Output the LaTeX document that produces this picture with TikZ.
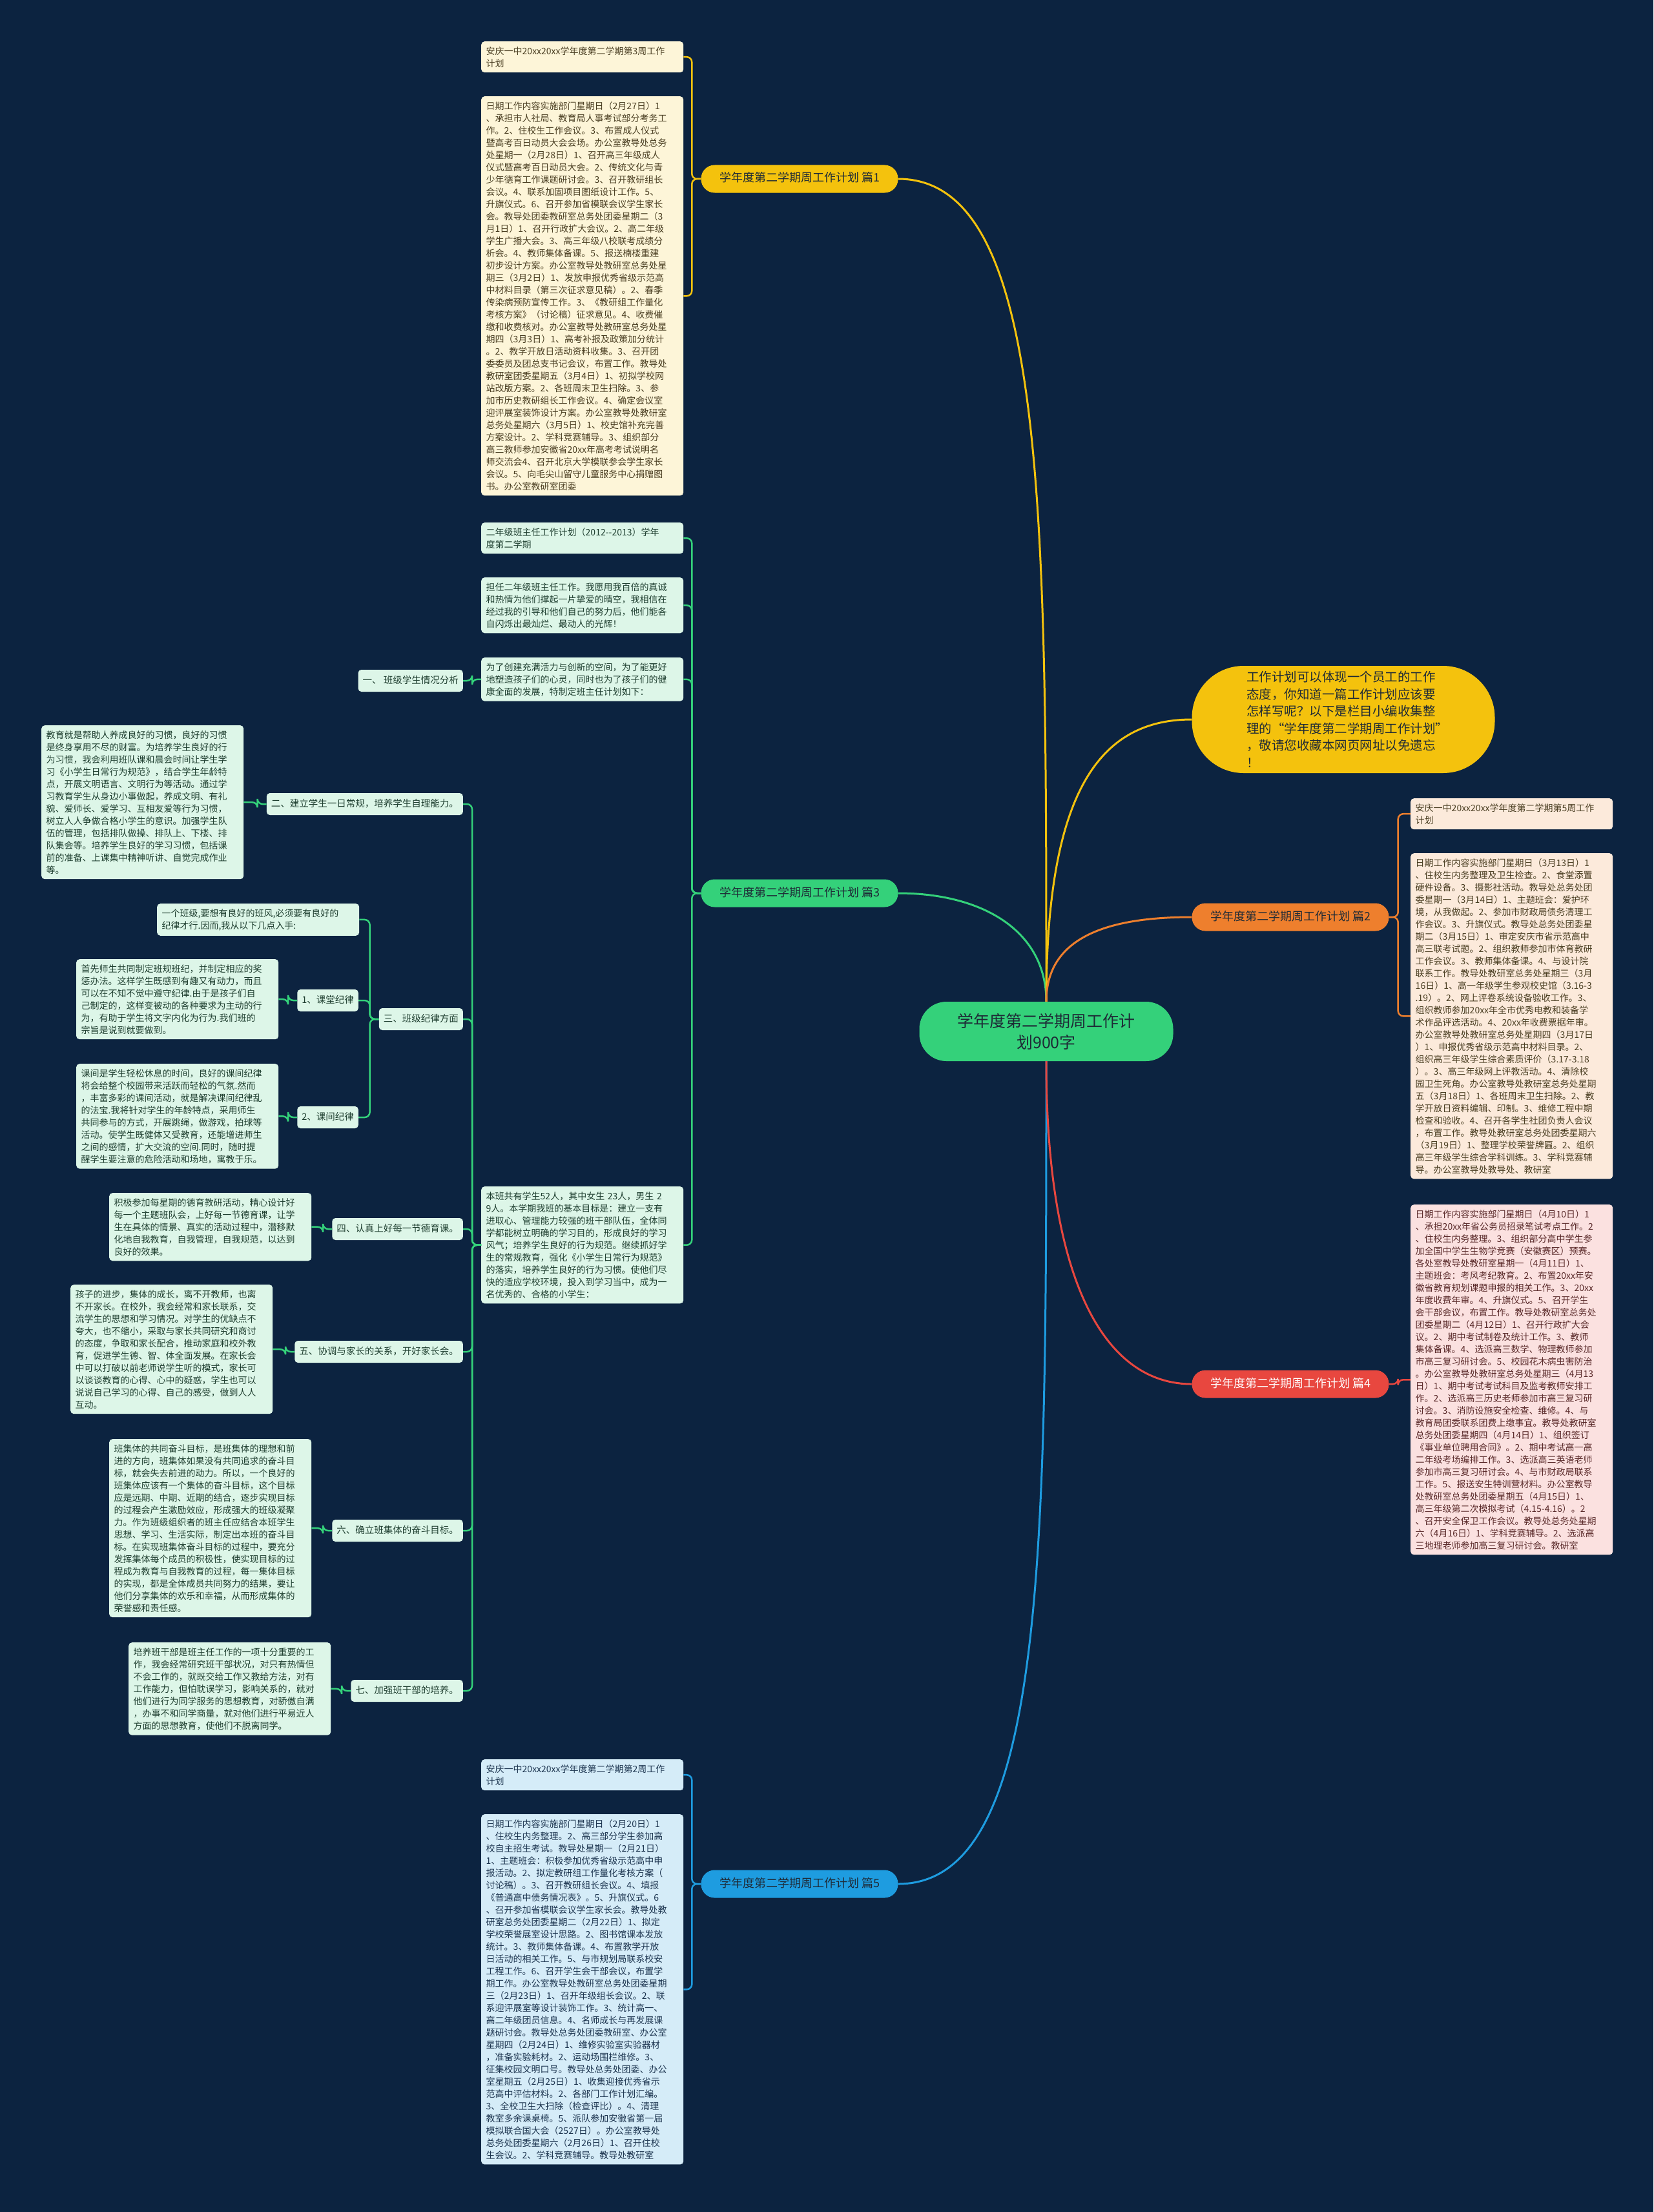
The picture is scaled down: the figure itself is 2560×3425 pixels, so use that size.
\documentclass[tikz,border=0pt]{standalone}
\usepackage{fontspec}
\setmainfont{Noto Sans CJK SC}
\definecolor{mmnavy}{HTML}{0C2340}
\definecolor{mmyellow}{HTML}{F4C20D}
\definecolor{mmgreen}{HTML}{34D17A}
\definecolor{mmblue}{HTML}{1E9CE0}
\definecolor{mmorange}{HTML}{EE7F2D}
\definecolor{mmred}{HTML}{E8473F}
\definecolor{mmcream}{HTML}{FDF5D8}
\definecolor{mmmint}{HTML}{DDF6E8}
\definecolor{mmsky}{HTML}{D5ECF8}
\definecolor{mmpeach}{HTML}{FCEADB}
\definecolor{mmpink}{HTML}{FBE1E0}
\definecolor{mmink}{HTML}{1E2A36}
\definecolor{mmbrown}{HTML}{4A3E22}
\definecolor{mmforest}{HTML}{1F3F30}
\definecolor{mmdeep}{HTML}{1D3550}
\definecolor{mmwine}{HTML}{5A2A2A}
\newcommand\bodyfont{\fontsize{14}{19}\selectfont}
\newcommand\tagfont{\fontsize{14.5}{19}\selectfont}
\newcommand\branchfont{\fontsize{18}{22}\selectfont}
\tikzset{
  noteBox/.style={rounded corners=5pt, align=left, text width=298pt, inner xsep=7.5pt, inner ysep=8pt, font=\bodyfont, anchor=north west},
  yellowBox/.style={noteBox, fill=mmcream, text=mmbrown},
  greenBox/.style={noteBox, fill=mmmint, text=mmforest},
  blueBox/.style={noteBox, fill=mmsky, text=mmdeep},
  orangeBox/.style={noteBox, fill=mmpeach, text=mmbrown},
  redBox/.style={noteBox, fill=mmpink, text=mmwine},
  tagBox/.style={fill=mmmint, text=mmforest, rounded corners=5pt, font=\tagfont, inner xsep=7pt, inner ysep=10pt, text height=11pt, text depth=3pt, anchor=east},
  branchNode/.style={rounded corners=21pt, font=\branchfont, minimum width=305pt, minimum height=43pt, inner sep=0pt, text height=14pt, text depth=4pt},
  yellowLink/.style={draw=mmyellow, line width=2.5pt, rounded corners=8pt},
  greenLink/.style={draw=mmgreen, line width=2.5pt, rounded corners=8pt},
  blueLink/.style={draw=mmblue, line width=2.5pt, rounded corners=8pt},
  orangeLink/.style={draw=mmorange, line width=2.5pt, rounded corners=8pt},
  redLink/.style={draw=mmred, line width=2.5pt, rounded corners=8pt}
}
\begin{document}
\begin{tikzpicture}[x=1pt,y=-1pt]
  \fill[mmnavy] (0,0) rectangle (2560,3425);
  \useasboundingbox (0,0) rectangle (2560,3425);

  % centre, intro and the five branches
  \node[fill=mmgreen, rounded corners=42pt, minimum width=393pt, minimum height=92pt, align=center, text=mmink, font=\fontsize{25}{33}\selectfont] (m) at (1620,1597) {学年度第二学期周工作计\\划900字};
  \node[fill=mmyellow, rounded corners=80pt, minimum width=469pt, minimum height=166pt, align=left, text width=300pt, text=mmink, font=\fontsize{19.5}{26.5}\selectfont] (intro) at (2080,1114) {工作计划可以体现一个员工的工作\\态度，你知道一篇工作计划应该要\\怎样写呢？以下是栏目小编收集整\\理的“学年度第二学期周工作计划”\\，敬请您收藏本网页网址以免遗忘\\！};
  \node[branchNode, fill=mmyellow, text=mmink] (b1) at (1238,277) {学年度第二学期周工作计划 篇1};
  \node[branchNode, fill=mmgreen, text=mmink] (b3) at (1238,1383) {学年度第二学期周工作计划 篇3};
  \node[branchNode, fill=mmblue, text=mmink] (b5) at (1238,2917) {学年度第二学期周工作计划 篇5};
  \node[branchNode, fill=mmorange, text=mmink] (b2) at (1998,1420) {学年度第二学期周工作计划 篇2};
  \node[branchNode, fill=mmred, text=white] (b4) at (1998,2143) {学年度第二学期周工作计划 篇4};

  \draw[yellowLink, line width=3pt] (m.north) .. controls +(0,-760) and +(230,0) .. (b1.east);
  \draw[greenLink, line width=3pt] (m.north) .. controls +(0,-110) and +(130,0) .. (b3.east);
  \draw[blueLink, line width=3pt] (m.south) .. controls +(0,760) and +(230,0) .. (b5.east);
  \draw[yellowLink, line width=3pt] (m.north) .. controls +(0,-330) and +(-140,0) .. (intro.west);
  \draw[orangeLink, line width=3pt] (m.north) .. controls +(0,-100) and +(-130,0) .. (b2.west);
  \draw[redLink, line width=3pt] (m.south) .. controls +(0,330) and +(-140,0) .. (b4.west);

  % 篇1
  \node[yellowBox] (c1a) at (745,64) {安庆一中20xx20xx学年度第二学期第3周工作\\计划};
  \node[yellowBox] (c1b) at (745,149) {日期工作内容实施部门星期日（2月27日）1\\、承担市人社局、教育局人事考试部分考务工\\作。2、住校生工作会议。3、布置成人仪式\\暨高考百日动员大会会场。办公室教导处总务\\处星期一（2月28日）1、召开高三年级成人\\仪式暨高考百日动员大会。2、传统文化与青\\少年德育工作课题研讨会。3、召开教研组长\\会议。4、联系加固项目图纸设计工作。5、\\升旗仪式。6、召开参加省模联会议学生家长\\会。教导处团委教研室总务处团委星期二（3\\月1日）1、召开行政扩大会议。2、高二年级\\学生广播大会。3、高三年级八校联考成绩分\\析会。4、教师集体备课。5、报送楠楼重建\\初步设计方案。办公室教导处教研室总务处星\\期三（3月2日）1、发放申报优秀省级示范高\\中材料目录（第三次征求意见稿）。2、春季\\传染病预防宣传工作。3、《教研组工作量化\\考核方案》（讨论稿）征求意见。4、收费催\\缴和收费核对。办公室教导处教研室总务处星\\期四（3月3日）1、高考补报及政策加分统计\\。2、教学开放日活动资料收集。3、召开团\\委委员及团总支书记会议，布置工作。教导处\\教研室团委星期五（3月4日）1、初拟学校网\\站改版方案。2、各班周末卫生扫除。3、参\\加市历史教研组长工作会议。4、确定会议室\\迎评展室装饰设计方案。办公室教导处教研室\\总务处星期六（3月5日）1、校史馆补充完善\\方案设计。2、学科竞赛辅导。3、组织部分\\高三教师参加安徽省20xx年高考考试说明名\\师交流会4、召开北京大学模联参会学生家长\\会议。5、向毛尖山留守儿童服务中心捐赠图\\书。办公室教研室团委};
  \foreach \c in {c1a,c1b}
    \draw[yellowLink] (b1.west) -- ++(-14,0) |- (\c.east);

  % 篇3
  \node[greenBox] (c3a) at (745,809) {二年级班主任工作计划（2012{-}{-}2013）学年\\度第二学期};
  \node[greenBox] (c3b) at (745,894) {担任二年级班主任工作。我愿用我百倍的真诚\\和热情为他们撑起一片挚爱的晴空，我相信在\\经过我的引导和他们自己的努力后，他们能各\\自闪烁出最灿烂、最动人的光辉！};
  \node[greenBox] (c3c) at (745,1018) {为了创建充满活力与创新的空间，为了能更好\\地塑造孩子们的心灵，同时也为了孩子们的健\\康全面的发展，特制定班主任计划如下：};
  \node[greenBox] (c3d) at (745,1837) {本班共有学生52人，其中女生 23人，男生 2\\9人。本学期我班的基本目标是：建立一支有\\进取心、管理能力较强的班干部队伍，全体同\\学都能树立明确的学习目的，形成良好的学习\\风气；培养学生良好的行为规范。继续抓好学\\生的常规教育，强化《小学生日常行为规范》\\的落实，培养学生良好的行为习惯。使他们尽\\快的适应学校环境，投入到学习当中，成为一\\名优秀的、合格的小学生：};
  \foreach \c in {c3a,c3b,c3c,c3d}
    \draw[greenLink] (b3.west) -- ++(-14,0) |- (\c.east);

  \node[tagBox] (n1) at (717,1054) {一、 班级学生情况分析};
  \draw[greenLink] (c3c.west) -- ++(-14,0) |- (n1.east);

  \node[tagBox] (n2) at (717,1245) {二、建立学生一日常规，培养学生自理能力。};
  \node[tagBox] (n3) at (717,1578) {三、班级纪律方面};
  \node[tagBox] (n4) at (717,1903) {四、认真上好每一节德育课。};
  \node[tagBox] (n5) at (717,2093) {五、协调与家长的关系，开好家长会。};
  \node[tagBox] (n6) at (717,2370) {六、确立班集体的奋斗目标。};
  \node[tagBox] (n7) at (717,2618) {七、加强班干部的培养。};
  \foreach \c in {n2,n3,n4,n5,n6,n7}
    \draw[greenLink] (c3d.west) -- ++(-14,0) |- (\c.east);

  \node[greenBox] (t2) at (64,1123) {教育就是帮助人养成良好的习惯，良好的习惯\\是终身享用不尽的财富。为培养学生良好的行\\为习惯，我会利用班队课和晨会时间让学生学\\习《小学生日常行为规范》，结合学生年龄特\\点，开展文明语言、文明行为等活动。通过学\\习教育学生从身边小事做起，养成文明、有礼\\貌、爱师长、爱学习、互相友爱等行为习惯，\\树立人人争做合格小学生的意识。加强学生队\\伍的管理，包括排队做操、排队上、下楼、排\\队集会等。培养学生良好的学习习惯，包括课\\前的准备、上课集中精神听讲、自觉完成作业\\等。};
  \draw[greenLink] (n2.west) -- ++(-14,0) |- (t2.east);

  \node[greenBox] (t3a) at (243,1399) {一个班级,要想有良好的班风,必须要有良好的\\纪律才行.因而,我从以下几点入手:};
  \node[tagBox] (n31) at (555,1549) {1、课堂纪律};
  \node[tagBox] (n32) at (555,1730) {2、课间纪律};
  \foreach \c in {t3a,n31,n32}
    \draw[greenLink] (n3.west) -- ++(-14,0) |- (\c.east);
  \node[greenBox] (t31) at (118,1485) {首先师生共同制定班规班纪，并制定相应的奖\\惩办法。这样学生既感到有趣又有动力，而且\\可以在不知不觉中遵守纪律.由于是孩子们自\\己制定的，这样变被动的各种要求为主动的行\\为，有助于学生将文字内化为行为.我们班的\\宗旨是说到就要做到。};
  \node[greenBox] (t32) at (118,1647) {课间是学生轻松休息的时间，良好的课间纪律\\将会给整个校园带来活跃而轻松的气氛.然而\\，丰富多彩的课间活动，就是解决课间纪律乱\\的法宝.我将针对学生的年龄特点，采用师生\\共同参与的方式，开展跳绳，做游戏，拍球等\\活动。使学生既健体又受教育，还能增进师生\\之间的感情，扩大交流的空间.同时，随时提\\醒学生要注意的危险活动和场地，寓教于乐。};
  \draw[greenLink] (n31.west) -- ++(-14,0) |- (t31.east);
  \draw[greenLink] (n32.west) -- ++(-14,0) |- (t32.east);

  \node[greenBox] (t4) at (169,1847) {积极参加每星期的德育教研活动，精心设计好\\每一个主题班队会，上好每一节德育课，让学\\生在具体的情景、真实的活动过程中，潜移默\\化地自我教育，自我管理，自我规范，以达到\\良好的效果。};
  \node[greenBox] (t5) at (109,1989) {孩子的进步，集体的成长，离不开教师，也离\\不开家长。在校外，我会经常和家长联系，交\\流学生的思想和学习情况。对学生的优缺点不\\夸大，也不缩小，采取与家长共同研究和商讨\\的态度，争取和家长配合，推动家庭和校外教\\育，促进学生德、智、体全面发展。在家长会\\中可以打破以前老师说学生听的模式，家长可\\以谈谈教育的心得、心中的疑惑，学生也可以\\说说自己学习的心得、自己的感受，做到人人\\互动。};
  \node[greenBox] (t6) at (169,2228) {班集体的共同奋斗目标，是班集体的理想和前\\进的方向，班集体如果没有共同追求的奋斗目\\标，就会失去前进的动力。所以，一个良好的\\班集体应该有一个集体的奋斗目标，这个目标\\应是远期、中期、近期的结合，逐步实现目标\\的过程会产生激励效应，形成强大的班级凝聚\\力。作为班级组织者的班主任应结合本班学生\\思想、学习、生活实际，制定出本班的奋斗目\\标。在实现班集体奋斗目标的过程中，要充分\\发挥集体每个成员的积极性，使实现目标的过\\程成为教育与自我教育的过程，每一集体目标\\的实现，都是全体成员共同努力的结果，要让\\他们分享集体的欢乐和幸福，从而形成集体的\\荣誉感和责任感。};
  \node[greenBox] (t7) at (199,2543) {培养班干部是班主任工作的一项十分重要的工\\作，我会经常研究班干部状况，对只有热情但\\不会工作的，就既交给工作又教给方法，对有\\工作能力，但怕耽误学习，影响关系的，就对\\他们进行为同学服务的思想教育，对骄傲自满\\，办事不和同学商量，就对他们进行平易近人\\方面的思想教育，使他们不脱离同学。};
  \foreach \n/\t in {n4/t4,n5/t5,n6/t6,n7/t7}
    \draw[greenLink] (\n.west) -- ++(-14,0) |- (\t.east);

  % 篇5
  \node[blueBox] (c5a) at (745,2724) {安庆一中20xx20xx学年度第二学期第2周工作\\计划};
  \node[blueBox] (c5b) at (745,2809) {日期工作内容实施部门星期日（2月20日）1\\、住校生内务整理。2、高三部分学生参加高\\校自主招生考试。教导处星期一（2月21日）\\1、主题班会：积极参加优秀省级示范高中申\\报活动。2、拟定教研组工作量化考核方案（\\讨论稿）。3、召开教研组长会议。4、填报\\《普通高中债务情况表》。5、升旗仪式。6\\、召开参加省模联会议学生家长会。教导处教\\研室总务处团委星期二（2月22日）1、拟定\\学校荣誉展室设计思路。2、图书馆课本发放\\统计。3、教师集体备课。4、布置教学开放\\日活动的相关工作。5、与市规划局联系校安\\工程工作。6、召开学生会干部会议，布置学\\期工作。办公室教导处教研室总务处团委星期\\三（2月23日）1、召开年级组长会议。2、联\\系迎评展室等设计装饰工作。3、统计高一、\\高二年级团员信息。4、名师成长与再发展课\\题研讨会。教导处总务处团委教研室、办公室\\星期四（2月24日）1、维修实验室实验器材\\，准备实验耗材。2、运动场围栏维修。3、\\征集校园文明口号。教导处总务处团委、办公\\室星期五（2月25日）1、收集迎接优秀省示\\范高中评估材料。2、各部门工作计划汇编。\\3、全校卫生大扫除（检查评比）。4、清理\\教室多余课桌椅。5、派队参加安徽省第一届\\模拟联合国大会（2527日）。办公室教导处\\总务处团委星期六（2月26日）1、召开住校\\生会议。2、学科竞赛辅导。教导处教研室};
  \foreach \c in {c5a,c5b}
    \draw[blueLink] (b5.west) -- ++(-14,0) |- (\c.east);

  % 篇2
  \node[orangeBox] (c2a) at (2184,1236) {安庆一中20xx20xx学年度第二学期第5周工作\\计划};
  \node[orangeBox] (c2b) at (2184,1321) {日期工作内容实施部门星期日（3月13日）1\\、住校生内务整理及卫生检查。2、食堂添置\\硬件设备。3、摄影社活动。教导处总务处团\\委星期一（3月14日）1、主题班会：爱护环\\境，从我做起。2、参加市财政局债务清理工\\作会议。3、升旗仪式。教导处总务处团委星\\期二（3月15日）1、审定安庆市省示范高中\\高三联考试题。2、组织教师参加市体育教研\\工作会议。3、教师集体备课。4、与设计院\\联系工作。教导处教研室总务处星期三（3月\\16日）1、高一年级学生参观校史馆（3.16-3\\.19）。2、网上评卷系统设备验收工作。3、\\组织教师参加20xx年全市优秀电教和装备学\\术作品评选活动。4、20xx年收费票据年审。\\办公室教导处教研室总务处星期四（3月17日\\）1、申报优秀省级示范高中材料目录。2、\\组织高三年级学生综合素质评价（3.17-3.18\\）。3、高三年级网上评教活动。4、清除校\\园卫生死角。办公室教导处教研室总务处星期\\五（3月18日）1、各班周末卫生扫除。2、教\\学开放日资料编辑、印制。3、维修工程中期\\检查和验收。4、召开各学生社团负责人会议\\，布置工作。教导处教研室总务处团委星期六\\（3月19日）1、整理学校荣誉牌匾。2、组织\\高三年级学生综合学科训练。3、学科竞赛辅\\导。办公室教导处教导处、教研室};
  \foreach \c in {c2a,c2b}
    \draw[orangeLink] (b2.east) -- ++(14,0) |- (\c.west);

  % 篇4
  \node[redBox] (c4a) at (2184,1865) {日期工作内容实施部门星期日（4月10日）1\\、承担20xx年省公务员招录笔试考点工作。2\\、住校生内务整理。3、组织部分高中学生参\\加全国中学生生物学竞赛（安徽赛区）预赛。\\各处室教导处教研室星期一（4月11日）1、\\主题班会：考风考纪教育。2、布置20xx年安\\徽省教育规划课题申报的相关工作。3、20xx\\年度收费年审。4、升旗仪式。5、召开学生\\会干部会议，布置工作。教导处教研室总务处\\团委星期二（4月12日）1、召开行政扩大会\\议。2、期中考试制卷及统计工作。3、教师\\集体备课。4、选派高三数学、物理教师参加\\市高三复习研讨会。5、校园花木病虫害防治\\。办公室教导处教研室总务处星期三（4月13\\日）1、期中考试考试科目及监考教师安排工\\作。2、选派高三历史老师参加市高三复习研\\讨会。3、消防设施安全检查、维修。4、与\\教育局团委联系团费上缴事宜。教导处教研室\\总务处团委星期四（4月14日）1、组织签订\\《事业单位聘用合同》。2、期中考试高一高\\二年级考场编排工作。3、选派高三英语老师\\参加市高三复习研讨会。4、与市财政局联系\\工作。5、报送安生特训营材料。办公室教导\\处教研室总务处团委星期五（4月15日）1、\\高三年级第二次模拟考试（4.15-4.16）。2\\、召开安全保卫工作会议。教导处总务处星期\\六（4月16日）1、学科竞赛辅导。2、选派高\\三地理老师参加高三复习研讨会。教研室};
  \draw[redLink] (b4.east) -- ++(14,0) |- (c4a.west);
\end{tikzpicture}
\end{document}
